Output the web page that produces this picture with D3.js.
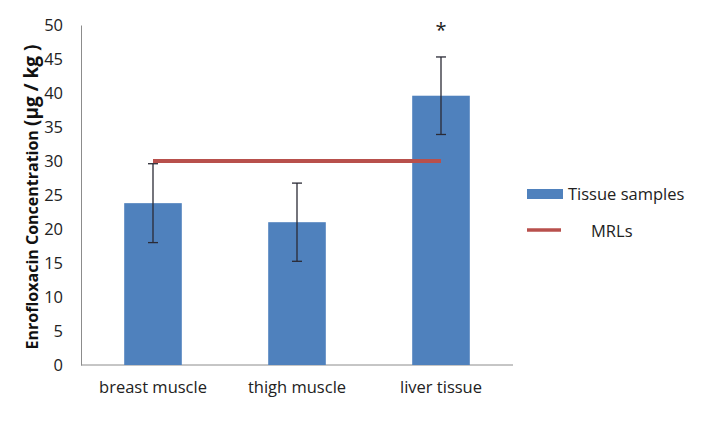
<!DOCTYPE html>
<html><head><meta charset="utf-8">
<script src="https://cdn.jsdelivr.net/npm/d3@7"></script>
<style>body{margin:0;background:#fff}svg{display:block}</style>
</head><body>
<svg id="c" width="717" height="426"></svg>
<script>
const categories = ["breast muscle", "thigh muscle", "liver tissue"];
const means = [23.8, 21.0, 39.6];
const errors = [5.8, 5.75, 5.7];
const mrl = [30, 30, 30];
const yTicks = [0, 5, 10, 15, 20, 25, 30, 35, 40, 45, 50];
const significance = ["", "", "*"];

const svg = d3.select("#c");
const font = "'Open Sans', sans-serif";
const m = {l: 81, r: 204, t: 25, b: 61};
const W = 717, H = 426;
const x = d3.scaleBand().domain(categories).range([m.l, W - m.r]).paddingInner(0.6).paddingOuter(0.3);
const y = d3.scaleLinear().domain([0, 50]).range([H - m.b, m.t]);

// axes
const ya = svg.append("g").attr("transform", `translate(${m.l},0)`)
  .call(d3.axisLeft(y).tickValues(yTicks).tickSize(0).tickPadding(18));
ya.select(".domain").attr("stroke", "#8c8c8c");
ya.selectAll("text").attr("font-family", font).attr("font-size", 16.5).attr("fill", "#222");

const xa = svg.append("g").attr("transform", `translate(0,${y(0)})`)
  .call(d3.axisBottom(x).tickSize(0).tickPadding(16));
xa.select(".domain").attr("stroke", "#8c8c8c").attr("d", `M${m.l},0H${W - m.r}`);
xa.selectAll("text").attr("font-family", font).attr("font-size", 16.5).attr("fill", "#222");

// bars
svg.append("g").selectAll("rect").data(categories).join("rect")
  .attr("x", d => x(d)).attr("width", x.bandwidth())
  .attr("y", (d, i) => y(means[i])).attr("height", (d, i) => y(0) - y(means[i]))
  .attr("fill", "#4f81bd");

// MRL line
const line = d3.line().x((d, i) => x(categories[i]) + x.bandwidth() / 2).y(d => y(d));
svg.append("path").datum(mrl).attr("d", line).attr("fill", "none")
  .attr("stroke", "#b8504c").attr("stroke-width", 4);

// error bars
const eg = svg.append("g").attr("stroke", "#2a2a35").attr("stroke-width", 1.3);
categories.forEach((c, i) => {
  const cx = x(c) + x.bandwidth() / 2;
  eg.append("line").attr("x1", cx).attr("x2", cx).attr("y1", y(means[i] + errors[i])).attr("y2", y(means[i] - errors[i]));
  [means[i] + errors[i], means[i] - errors[i]].forEach(v =>
    eg.append("line").attr("x1", cx - 5).attr("x2", cx + 5).attr("y1", y(v)).attr("y2", y(v)));
  if (significance[i]) svg.append("text").attr("x", cx).attr("y", y(means[i] + errors[i]) - 20)
    .attr("text-anchor", "middle").attr("font-family", font).attr("font-size", 20).attr("fill", "#222").text(significance[i]);
});

// y title
const t = svg.append("text").attr("transform", "translate(38,197) rotate(-90)")
  .attr("text-anchor", "middle").attr("font-family", font).attr("font-weight", "bold")
  .attr("font-size", 16).attr("fill", "#111");
t.append("tspan").text("Enrofloxacin Concentration ");
t.append("tspan").attr("font-size", 19).text("(µg / kg )");

// legend
const lg = svg.append("g").attr("font-family", font).attr("font-size", 16.5).attr("fill", "#222");
lg.append("rect").attr("x", 527).attr("y", 189).attr("width", 36).attr("height", 10).attr("fill", "#4f81bd");
lg.append("text").attr("x", 568).attr("y", 200).text("Tissue samples");
lg.append("line").attr("x1", 527).attr("x2", 561).attr("y1", 230).attr("y2", 230).attr("stroke", "#b8504c").attr("stroke-width", 3.5);
lg.append("text").attr("x", 591).attr("y", 237).text("MRLs");
</script>
</body></html>
